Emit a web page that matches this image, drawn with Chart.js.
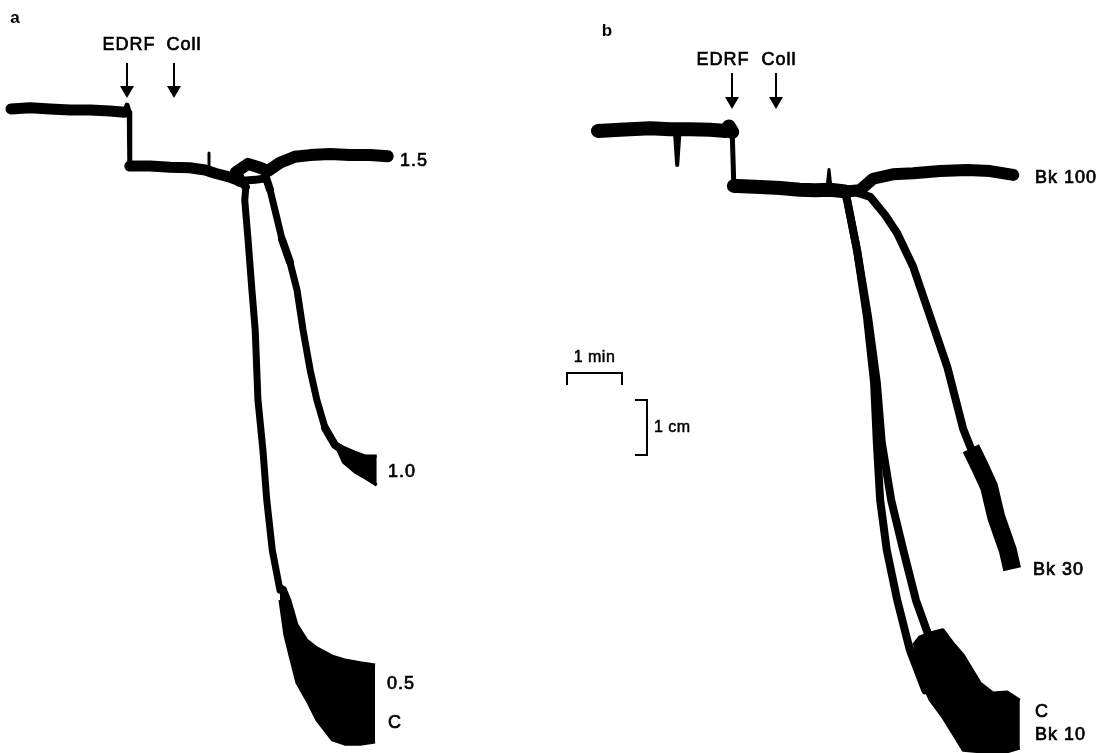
<!DOCTYPE html>
<html>
<head>
<meta charset="utf-8">
<script src="https://cdn.jsdelivr.net/npm/chart.js@4.4.1/dist/chart.umd.min.js"></script>
<style>
  body { margin: 0; background: #fff; }
  #wrap { position: relative; width: 1102px; height: 753px; }
  .panel { position: absolute; top: 0; width: 551px; height: 753px; }
</style>
</head>
<body>
<div id="wrap">
  <div class="panel" style="left:0"><canvas id="panelA"></canvas></div>
  <div class="panel" style="left:551px"><canvas id="panelB"></canvas></div>
</div>
<script>
// Superimposed tension recordings. Time in min, deflection in cm (0 = resting tone).

// ---- panel a (collagen concentrations) ----
const aCommonT = [0, 0.35, 0.71, 1.07, 1.44, 1.8, 2.07, 2.11, 2.15, 2.16, 2.2, 2.53, 2.89, 3.25, 3.53, 3.71, 3.98, 4.16];
const aCommonV = [0.02, 0.04, 0.02, 0, 0, -0.02, -0.04, 0.09, -0.04, -1.02, -1.02, -1.02, -1.04, -1.05, -1.09, -1.15, -1.22, -1.29];
const aSpikeT = [3.6, 3.6];
const aSpikeV = [-1.05, -0.78];
const a15T = [4.16, 4.09, 4.31, 4.53, 4.67, 4.89, 5.16, 5.44, 5.8, 6.16, 6.53, 6.85];
const a15V = [-1.29, -1.13, -0.98, -1.05, -1.11, -0.96, -0.85, -0.82, -0.8, -0.82, -0.82, -0.84];
const a10T = [4.16, 4.44, 4.64, 4.71, 4.8, 4.93, 5.07, 5.2, 5.31, 5.44, 5.56, 5.71, 5.89, 6.07];
const a10V = [-1.29, -1.27, -1.24, -1.45, -1.82, -2.36, -2.76, -3.27, -4.0, -4.73, -5.27, -5.78, -6.09, -6.22];
const a10EndT = [5.95, 6.04, 6.25, 6.44, 6.65];
const a10EndHi = [-6.08, -6.13, -6.22, -6.29, -6.29];
const a10EndLo = [-6.2, -6.4, -6.58, -6.69, -6.82];
const aCT = [4.16, 4.27, 4.25, 4.31, 4.38, 4.44, 4.49, 4.58, 4.65, 4.75, 4.89];
const aCV = [-1.29, -1.4, -1.64, -2.36, -3.27, -4.0, -5.27, -6.18, -7.09, -8.0, -8.73];
const aCEndT = [4.89, 4.98, 5.07, 5.2, 5.38, 5.56, 5.84, 6.07, 6.35, 6.62];
const aCEndHi = [-8.64, -8.69, -8.91, -9.36, -9.64, -9.78, -9.93, -10.0, -10.05, -10.09];
const aCEndLo = [-8.91, -9.55, -9.91, -10.42, -10.73, -11.09, -11.45, -11.53, -11.53, -11.49];
const aEventTimes = [2.11, 2.96];

// ---- panel b (Bk concentrations) ----
const bCommonT = [0, 0.4, 0.95, 1.31, 1.67, 2.04, 2.33, 2.38, 2.44, 2.47, 2.53, 2.95, 3.31, 3.67, 3.95, 4.22, 4.49];
const bCommonV = [0.02, 0.04, 0.07, 0.05, 0.05, 0.04, 0.02, 0.1, 0.0, -0.98, -0.98, -1.0, -1.02, -1.05, -1.06, -1.05, -1.08];
const bDipT = [1.4, 1.44, 1.48];
const bDipV = [-0.02, -0.6, -0.02];
const bSpikeT = [4.16, 4.2, 4.24];
const bSpikeV = [-1.05, -0.68, -1.05];
const b100T = [4.49, 4.76, 5.0, 5.36, 5.73, 6.22, 6.71, 7.13, 7.55];
const b100V = [-1.08, -1.06, -0.85, -0.77, -0.75, -0.71, -0.69, -0.71, -0.78];
const b30T = [4.49, 4.67, 4.95, 5.22, 5.44, 5.73, 6.04, 6.35, 6.64, 6.78];
const b30V = [-1.08, -1.09, -1.18, -1.51, -1.84, -2.45, -3.36, -4.27, -5.4, -5.75];
const b30EndT = [6.78, 6.95, 7.11, 7.24, 7.45, 7.53];
const b30EndV = [-5.75, -6.1, -6.45, -7.0, -7.6, -7.95];
const b10T = [4.49, 4.53, 4.71, 4.89, 5.02, 5.07, 5.13, 5.25, 5.44, 5.67, 5.95];
const b10V = [-1.08, -1.24, -2.15, -3.36, -4.56, -5.65, -6.69, -7.6, -8.51, -9.42, -10.15];
const bCT = [4.49, 4.53, 4.71, 4.91, 5.07, 5.16, 5.33, 5.55, 5.78, 6.04];
const bCV = [-1.08, -1.24, -2.15, -3.36, -4.56, -5.65, -6.69, -7.6, -8.51, -9.24];
const bEndT = [5.73, 5.85, 6.04, 6.27, 6.45, 6.64, 6.95, 7.18, 7.44, 7.67];
const bEndHi = [-9.33, -9.18, -9.11, -9.05, -9.29, -9.51, -10.02, -10.2, -10.18, -10.33];
const bEndLo = [-9.51, -9.91, -10.33, -10.64, -10.93, -11.24, -11.27, -11.27, -11.27, -11.2];
const bEventTimes = [2.44, 3.24];

const eventNames = ["EDRF", "Coll"];

function pts(t, v) {
    return t.map((x, i) => ({ x: x, y: v[i] }));
}

// thinner pen where the trace moves fast (steep segments)
function pen(thick, thin) {
    return (ctx) => {
        const dx = Math.abs(ctx.p1.x - ctx.p0.x);
        const dy = Math.abs(ctx.p1.y - ctx.p0.y);
        return dy > 3 * dx ? thin : thick;
    };
}

function trace(t, v, thick, thin, cap) {
    return {
        data: pts(t, v),
        borderColor: "#000",
        borderWidth: thick,
        borderCapStyle: cap || "round",
        segment: { borderWidth: pen(thick, thin) },
        fill: false,
    };
}

function envelope(t, hi, lo) {
    return [
        { data: pts(t, hi), borderColor: "#000", borderWidth: 3, fill: false },
        { data: pts(t, lo), borderColor: "#000", borderWidth: 3, backgroundColor: "#000", fill: "-1" },
    ];
}

const FONT = "'Liberation Sans', Arial, sans-serif";

// scanned lettering is a bit heavier than the plain face
function heavyText(ctx, text, x, y) {
    ctx.fillText(text, x, y);
    ctx.strokeText(text, x, y);
}

const marksPlugin = {
    id: "marks",
    afterDatasetsDraw(chart, args, o) {
        const ctx = chart.ctx;
        const xs = chart.scales.x;
        const ys = chart.scales.y;
        ctx.save();
        ctx.fillStyle = "#000";
        ctx.strokeStyle = "#000";
        ctx.textBaseline = "middle";

        // panel letter
        ctx.font = "bold 17px " + FONT;
        ctx.textAlign = "center";
        ctx.fillText(o.letter.text, o.letter.x, o.letter.y);

        // event arrows
        ctx.font = "18px " + FONT;
        ctx.letterSpacing = "1px";
        o.events.times.forEach((t, i) => {
            const x = Math.round(xs.getPixelForValue(t));
            ctx.lineWidth = 0.7;
            heavyText(ctx, eventNames[i], o.events.textX[i], o.events.textY);
            ctx.lineWidth = 2;
            ctx.beginPath();
            ctx.moveTo(x, o.events.top);
            ctx.lineTo(x, o.events.tip - 10);
            ctx.stroke();
            ctx.beginPath();
            ctx.moveTo(x - 7, o.events.tip - 12);
            ctx.lineTo(x + 7, o.events.tip - 12);
            ctx.lineTo(x, o.events.tip);
            ctx.closePath();
            ctx.fill();
        });

        // trace labels
        ctx.textAlign = "left";
        ctx.lineWidth = 0.7;
        o.labels.forEach((l) => heavyText(ctx, l.text, l.x, l.y));

        // calibration bars: 1 min and 1 cm
        if (o.scaleBar) {
            const s = o.scaleBar;
            const w = xs.getPixelForValue(1) - xs.getPixelForValue(0);
            const h = ys.getPixelForValue(0) - ys.getPixelForValue(1);
            ctx.lineWidth = 2;
            ctx.beginPath();
            ctx.moveTo(s.hx, s.hy + 12);
            ctx.lineTo(s.hx, s.hy);
            ctx.lineTo(s.hx + w, s.hy);
            ctx.lineTo(s.hx + w, s.hy + 12);
            ctx.stroke();
            ctx.beginPath();
            ctx.moveTo(s.vx - 12, s.vy);
            ctx.lineTo(s.vx, s.vy);
            ctx.lineTo(s.vx, s.vy + h);
            ctx.lineTo(s.vx - 12, s.vy + h);
            ctx.stroke();
            ctx.font = "16px " + FONT;
            ctx.letterSpacing = "0.5px";
            ctx.lineWidth = 0.5;
            ctx.textAlign = "center";
            heavyText(ctx, "1 min", s.hx + w / 2, s.hy - 15);
            ctx.textAlign = "left";
            heavyText(ctx, "1 cm", s.vx + 7, s.vy + h / 2);
        }
        ctx.restore();
    },
};

function makePanel(id, datasets, xmin, ymax, marks) {
    const el = document.getElementById(id);
    return new Chart(el.getContext("2d"), {
        type: "line",
        data: { datasets: datasets },
        options: {
            responsive: true,
            maintainAspectRatio: false,
            animation: false,
            events: [],
            layout: { padding: 0 },
            elements: {
                point: { radius: 0 },
                line: { tension: 0, borderJoinStyle: "round" },
            },
            scales: {
                // 55 px per minute and per cm, as on the chart paper
                x: { type: "linear", display: false, min: xmin, max: xmin + 551 / 55 },
                y: { type: "linear", display: false, min: ymax - 753 / 55, max: ymax },
            },
            plugins: {
                legend: { display: false },
                tooltip: { enabled: false },
                marks: marks,
            },
        },
        plugins: [marksPlugin],
    });
}

makePanel("panelA", [
    trace(aCommonT, aCommonV, 11, 5),
    trace(aSpikeT, aSpikeV, 3, 3),
    trace(a15T, a15V, 12, 8),
    trace(a10T, a10V, 8, 7),
    trace(aCT, aCV, 8, 7),
    ...envelope(a10EndT, a10EndHi, a10EndLo),
    ...envelope(aCEndT, aCEndHi, aCEndLo),
], -0.2, 2.0, {
    letter: { text: "a", x: 15, y: 18 },
    events: { times: aEventTimes, textX: [129, 184], textY: 45, top: 63, tip: 98 },
    labels: [
        { text: "1.5", x: 400, y: 161 },
        { text: "1.0", x: 388, y: 472 },
        { text: "0.5", x: 387, y: 684 },
        { text: "C", x: 388, y: 723 },
    ],
});

makePanel("panelB", [
    trace(bCommonT, bCommonV, 14, 5),
    trace(bDipT, bDipV, 4, 4),
    trace(bSpikeT, bSpikeV, 3, 3),
    trace(b100T, b100V, 12, 8),
    trace(b30T, b30V, 8, 8),
    trace(b30EndT, b30EndV, 18, 18, "butt"),
    trace(b10T, b10V, 8, 8),
    trace(bCT, bCV, 8, 8),
    ...envelope(bEndT, bEndHi, bEndLo),
], -47 / 55, 2.4, {
    letter: { text: "b", x: 56, y: 31 },
    events: { times: bEventTimes, textX: [172, 228], textY: 60, top: 73, tip: 109 },
    labels: [
        { text: "Bk 100", x: 484, y: 178 },
        { text: "Bk 30", x: 482, y: 570 },
        { text: "C", x: 484, y: 712 },
        { text: "Bk 10", x: 484, y: 735 },
    ],
    scaleBar: { hx: 16, hy: 373, vx: 96, vy: 400 },
});
</script>
</body>
</html>
